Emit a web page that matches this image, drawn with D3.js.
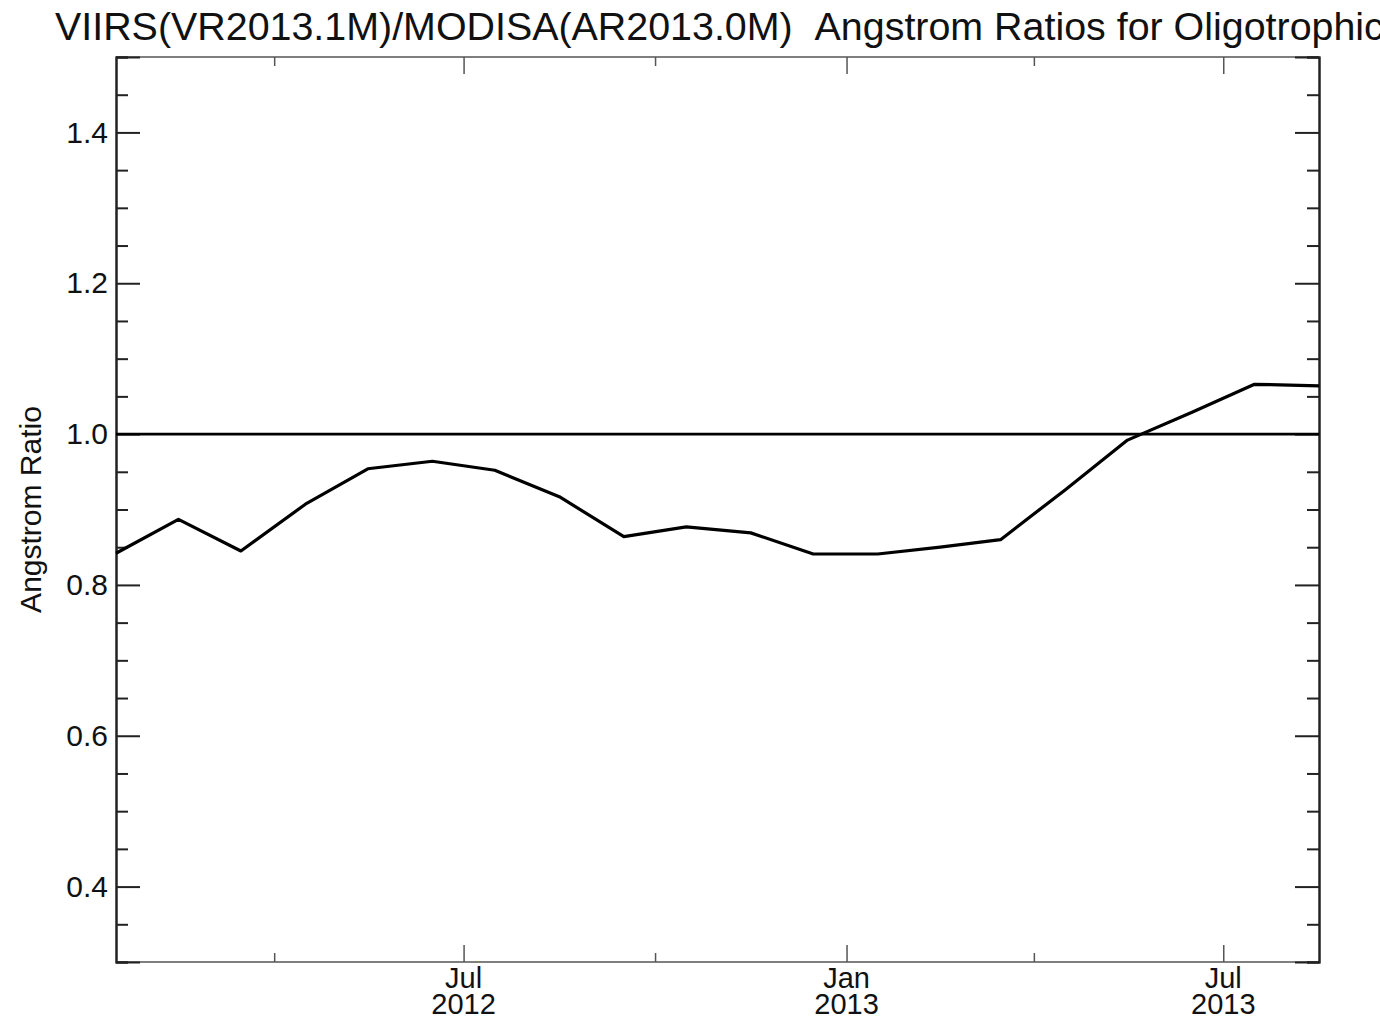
<!DOCTYPE html>
<html>
<head>
<meta charset="utf-8">
<script src="https://cdn.jsdelivr.net/npm/d3@7"></script>
<style>
  html, body { margin: 0; padding: 0; background: #fff; }
  svg { display: block; }
  text { font-family: "Liberation Sans", Arial, Helvetica, sans-serif; fill: #111; }
</style>
</head>
<body>
<svg id="chart" width="1380" height="1021"></svg>
<script>
// Monthly mean VIIRS/MODISA Angstrom ratio, oligotrophic waters
const dates = [
  "2012-01-16", "2012-02-15", "2012-03-16", "2012-04-16", "2012-05-16",
  "2012-06-16", "2012-07-16", "2012-08-16", "2012-09-16", "2012-10-16",
  "2012-11-16", "2012-12-16", "2013-01-16", "2013-02-15", "2013-03-16",
  "2013-04-16", "2013-05-16", "2013-06-16", "2013-07-16", "2013-08-16"
];
const ratios = [
  0.842, 0.887, 0.845, 0.907, 0.954,
  0.964, 0.952, 0.917, 0.864, 0.877,
  0.869, 0.841, 0.841, 0.850, 0.860,
  0.926, 0.992, 1.029, 1.066, 1.064
];
const referenceValue = 1.0;
const yMajorTicks = [0.4, 0.6, 0.8, 1.0, 1.2, 1.4];
const yMinorTicks = [0.30, 0.35, 0.45, 0.50, 0.55, 0.65, 0.70, 0.75, 0.85, 0.90, 0.95,
                     1.05, 1.10, 1.15, 1.25, 1.30, 1.35, 1.45, 1.50];
const xMajorTicks = ["2012-07-01", "2013-01-01", "2013-07-01"];
const xMinorTicks = ["2012-04-01", "2012-10-01", "2013-04-01"];
const titleText = "VIIRS(VR2013.1M)/MODISA(AR2013.0M)\u00a0\u00a0Angstrom Ratios for Oligotrophic";
const yTitle = "Angstrom Ratio";

const parse = d3.utcParse("%Y-%m-%d");
const data = dates.map((d, i) => ({ date: parse(d), value: ratios[i] }));

const margin = { left: 116, right: 61, top: 57, bottom: 59 };
const W = 1380, H = 1021;
const innerW = W - margin.left - margin.right;
const innerH = H - margin.top - margin.bottom;

const svg = d3.select("#chart");

const x = d3.scaleUtc()
  .domain([parse(dates[0]), parse(dates[dates.length - 1])])
  .range([margin.left, margin.left + innerW]);
const y = d3.scaleLinear()
  .domain([0.3, 1.5])
  .range([margin.top + innerH, margin.top]);

const yMajLen = 24, yMinLen = 12, xMajLen = 17, xMinLen = 9;
const xAxisColor = "#555", yAxisColor = "#222";

// Frame
const x0 = margin.left, x1 = margin.left + innerW;
const y0 = margin.top, y1 = margin.top + innerH;
svg.append("line").attr("x1", x0).attr("x2", x1).attr("y1", y0).attr("y2", y0)
  .attr("stroke", xAxisColor).attr("stroke-width", 1.6);
svg.append("line").attr("x1", x0).attr("x2", x1).attr("y1", y1).attr("y2", y1)
  .attr("stroke", xAxisColor).attr("stroke-width", 1.6);

// Y axes (left labelled, right mirrored), ticks pointing inward
const fmt = d3.format(".1f");
const yLeft = d3.axisLeft(y).tickValues(yMajorTicks).tickSize(-yMajLen)
  .tickPadding(yMajLen + 8).tickFormat(fmt);
const gL = svg.append("g").attr("transform", `translate(${x0},0)`).call(yLeft);
const yLeftMinor = d3.axisLeft(y).tickValues(yMinorTicks).tickSize(-yMinLen).tickFormat("");
svg.append("g").attr("transform", `translate(${x0},0)`).call(yLeftMinor);

const yRight = d3.axisRight(y).tickValues(yMajorTicks).tickSize(-yMajLen).tickFormat("");
svg.append("g").attr("transform", `translate(${x1},0)`).call(yRight);
const yRightMinor = d3.axisRight(y).tickValues(yMinorTicks).tickSize(-yMinLen).tickFormat("");
svg.append("g").attr("transform", `translate(${x1},0)`).call(yRightMinor);

svg.selectAll(".domain").attr("stroke", yAxisColor).attr("stroke-width", 2);
svg.selectAll(".tick line").attr("stroke", yAxisColor).attr("stroke-width", 2);
gL.selectAll(".tick text")
  .style("font-family", '"Liberation Sans", Arial, sans-serif')
  .style("font-size", "30px").attr("fill", "#111")
  .attr("x", -8);

// X axes (bottom labelled, top mirrored)
const monthFmt = d3.utcFormat("%b");
const yearFmt = d3.utcFormat("%Y");
const xMaj = xMajorTicks.map(parse);
const xMin = xMinorTicks.map(parse);

const xBottom = d3.axisBottom(x).tickValues(xMaj).tickSize(-xMajLen).tickFormat("");
svg.append("g").attr("class", "xaxis").attr("transform", `translate(0,${y1})`).call(xBottom);
const xBottomMinor = d3.axisBottom(x).tickValues(xMin).tickSize(-xMinLen).tickFormat("");
svg.append("g").attr("class", "xaxis").attr("transform", `translate(0,${y1})`).call(xBottomMinor);
const xTop = d3.axisTop(x).tickValues(xMaj).tickSize(-xMajLen).tickFormat("");
svg.append("g").attr("class", "xaxis").attr("transform", `translate(0,${y0})`).call(xTop);
const xTopMinor = d3.axisTop(x).tickValues(xMin).tickSize(-xMinLen).tickFormat("");
svg.append("g").attr("class", "xaxis").attr("transform", `translate(0,${y0})`).call(xTopMinor);
svg.selectAll(".xaxis .domain").remove();
svg.selectAll(".xaxis .tick line").attr("stroke", xAxisColor).attr("stroke-width", 1.5);

// Two-line date labels (month above year)
const labels = svg.append("g");
xMaj.forEach(d => {
  labels.append("text")
    .attr("x", x(d)).attr("y", 988).attr("text-anchor", "middle")
    .style("font-size", "29px")
    .text(monthFmt(d));
  labels.append("text")
    .attr("x", x(d)).attr("y", 1014).attr("text-anchor", "middle")
    .style("font-size", "29px")
    .text(yearFmt(d));
});

// Reference line at ratio 1.0
svg.append("line")
  .attr("x1", x0).attr("x2", x1)
  .attr("y1", y(referenceValue)).attr("y2", y(referenceValue))
  .attr("stroke", "#000").attr("stroke-width", 2.6);

// Ratio series
const line = d3.line().x(d => x(d.date)).y(d => y(d.value));
svg.append("path").datum(data)
  .attr("d", line)
  .attr("fill", "none")
  .attr("stroke", "#000")
  .attr("stroke-width", 3.2)
  .attr("stroke-linejoin", "round");

// Title
svg.append("text")
  .attr("x", 55).attr("y", 40)
  .style("font-size", "39.4px")
  .text(titleText);

// Y axis title
svg.append("text")
  .attr("transform", `translate(41,${(y0 + y1) / 2}) rotate(-90)`)
  .attr("text-anchor", "middle")
  .style("font-size", "30px")
  .text(yTitle);
</script>
</body>
</html>
